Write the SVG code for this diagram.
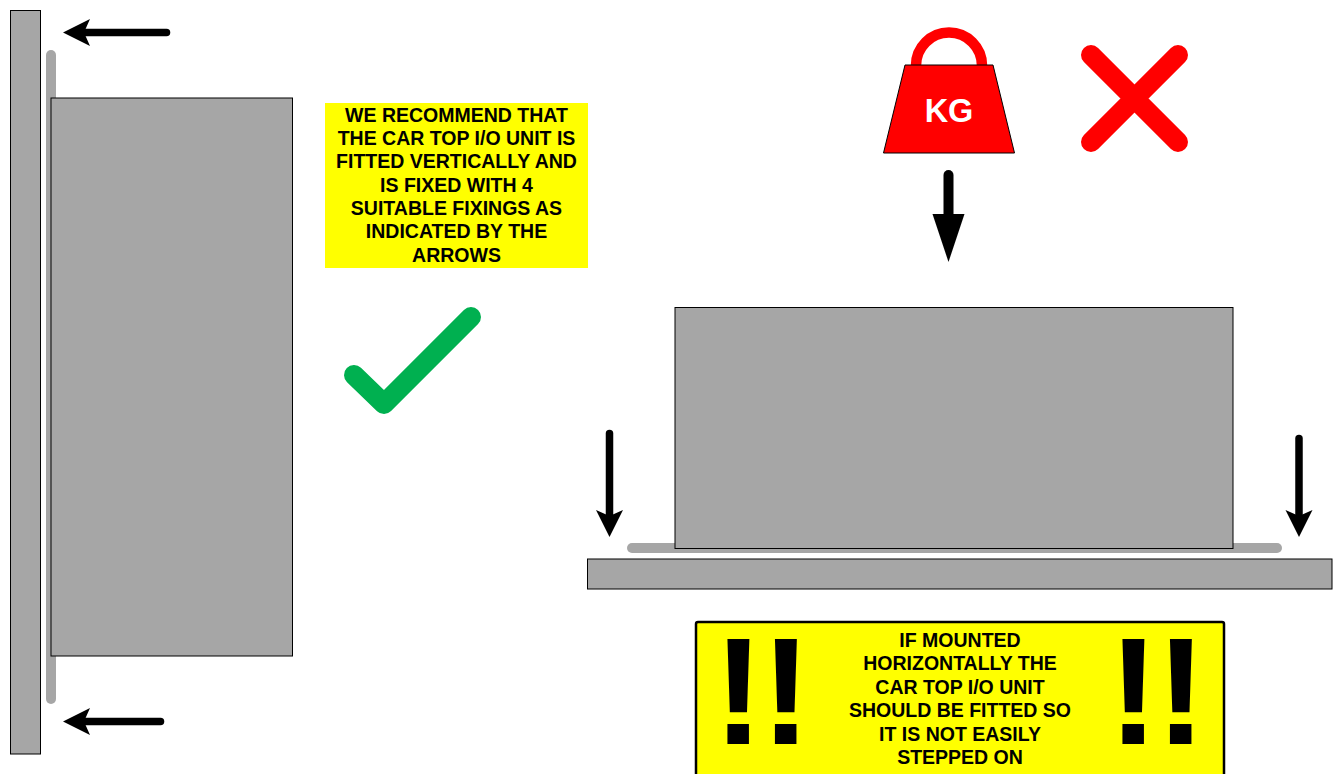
<svg xmlns="http://www.w3.org/2000/svg" width="1340" height="774" viewBox="0 0 1340 774">
<style>
.unit{fill:#a6a6a6;stroke:#000;stroke-width:1}
.bar{fill:none;stroke:#a6a6a6;stroke-width:10;stroke-linecap:round}
.arrow{fill:none;stroke:#000;stroke-width:7.500;stroke-linecap:round;marker-end:url(#barbed)}
.arrow-big{fill:none;stroke:#000;stroke-width:10;stroke-linecap:round;marker-end:url(#plain)}
.note{fill:#ff0;}
text{font-family:"Liberation Sans",Arial,sans-serif;font-weight:700;text-anchor:middle}
.t{font-size:19.500px;fill:#000}
.ex{font-size:153px;letter-spacing:-3.500px;fill:#000;text-anchor:start}
</style>
<defs>
<marker id="barbed" markerUnits="userSpaceOnUse" markerWidth="30" markerHeight="30" viewBox="0 -15 30 30" refX="6" refY="0" orient="auto"><path d="M0,-13.5L27,0L0,13.5L6,0z" fill="#000"/></marker>
<marker id="plain" markerUnits="userSpaceOnUse" markerWidth="50" markerHeight="36" viewBox="0 -18 50 36" refX="0" refY="0" orient="auto"><path d="M0,-16L48,0L0,16z" fill="#000"/></marker>
</defs>
<rect width="1340" height="774" fill="#fff"/>
<g id="bars">
<path class="bar" d="M51,55V699"/>
<path class="bar" d="M632,548H1277"/>
</g>
<g id="wall"><rect class="unit" x="10.5" y="10.5" width="30" height="743.5"/></g>
<g id="unit-vertical"><rect class="unit" x="51" y="98" width="241.500" height="558"/></g>
<g id="unit-horizontal"><rect class="unit" x="675" y="307.500" width="558" height="241"/></g>
<g id="floor"><rect class="unit" x="587.500" y="559" width="744.500" height="30"/></g>
<g id="note-vertical">
<rect class="note" x="325" y="103" width="263" height="165"/>
<text class="t" x="456.500" y="122">WE RECOMMEND THAT</text>
<text class="t" x="456.500" y="145">THE CAR TOP I/O UNIT IS</text>
<text class="t" x="456.500" y="168">FITTED VERTICALLY AND</text>
<text class="t" x="456.500" y="192">IS FIXED WITH 4</text>
<text class="t" x="456.500" y="215">SUITABLE FIXINGS AS</text>
<text class="t" x="456.500" y="238">INDICATED BY THE</text>
<text class="t" x="456.500" y="261.500">ARROWS</text>
</g>
<g id="tick"><path d="M354,375L384,404L471,317" fill="none" stroke="#00b050" stroke-width="20" stroke-linecap="round" stroke-linejoin="round"/></g>
<g id="weight">
<path d="M916,65.500A33,33 0 0 1 982,65.500" fill="none" stroke="#f00" stroke-width="10.500"/>
<path d="M905,65H993L1014.500,153H883.500z" fill="#f00" stroke="#000" stroke-width="1"/>
<text x="949" y="122" font-size="32.500" fill="#fff">KG</text>
</g>
<g id="cross"><path d="M1091,55L1178,142M1178,55L1091,142" fill="none" stroke="#f00" stroke-width="20" stroke-linecap="round"/></g>
<g id="note-horizontal">
<rect x="696" y="622" width="528" height="170" rx="2" fill="#ff0" stroke="#000" stroke-width="2.500"/>
<text class="ex" x="713" y="743.500">!!</text>
<text class="ex" x="1108" y="743.500">!!</text>
<text class="t" x="960" y="646.500">IF MOUNTED</text>
<text class="t" x="960" y="670">HORIZONTALLY THE</text>
<text class="t" x="960" y="693.500">CAR TOP I/O UNIT</text>
<text class="t" x="960" y="716.500">SHOULD BE FITTED SO</text>
<text class="t" x="960" y="740.500">IT IS NOT EASILY</text>
<text class="t" x="960" y="763.500">STEPPED ON</text>
</g>
<g id="connectors">
<path class="arrow" d="M166.500,32.500H84"/>
<path class="arrow" d="M160.500,721.500H84"/>
<path class="arrow" d="M609.500,433.500V516"/>
<path class="arrow" d="M1299,438.500V516"/>
<path class="arrow-big" d="M948.500,175V214"/>
</g>
</svg>
